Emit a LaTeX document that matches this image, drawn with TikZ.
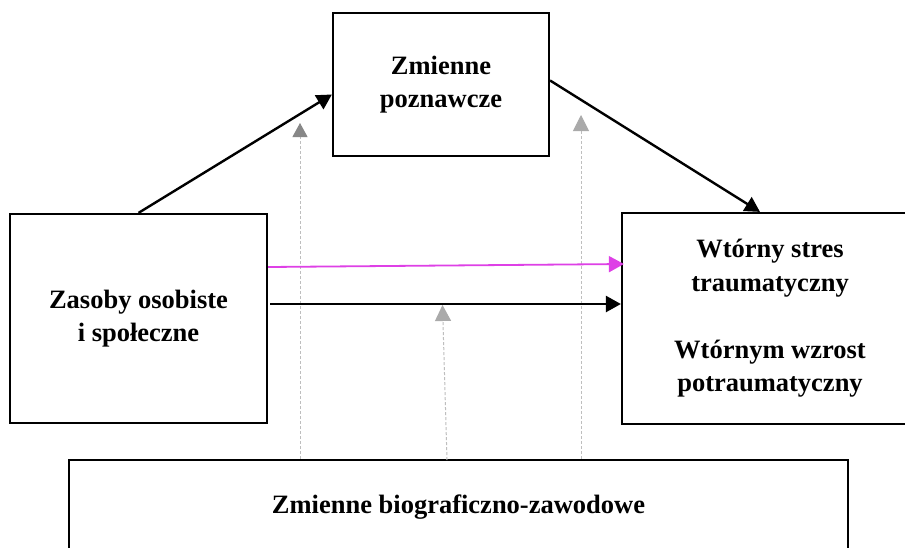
\documentclass[tikz,border=0pt]{standalone}
\usepackage{fontspec}
\setmainfont{Liberation Serif}
\usetikzlibrary{arrows.meta,calc}
\definecolor{mag}{RGB}{222,64,230}
\definecolor{dashgray}{RGB}{190,190,190}
\definecolor{tipdark}{RGB}{135,135,135}
\definecolor{tiplight}{RGB}{170,170,170}
\tikzset{
  box/.style={draw=black,line width=2.2pt,fill=white,align=center,
    font=\fontsize{26.5}{33.5}\selectfont\bfseries,inner sep=0pt},
  conn/.style={line width=2.4pt,-{Triangle[length=15pt,width=16pt]}},
  magconn/.style={draw=mag,line width=1.8pt,-{Triangle[length=15pt,width=16pt,color=mag]}},
  modline/.style={draw=dashgray,line width=1pt,dash pattern=on 3pt off 2pt},
  tipD/.style={-{Triangle[length=14pt,width=15pt,color=tipdark]}},
  tipL/.style={-{Triangle[length=16pt,width=16pt,color=tiplight]}}
}
\begin{document}
\begin{tikzpicture}[x=1pt,y=-1pt]
\useasboundingbox (0,0) rectangle (905,547);
\clip (0,0) rectangle (905,547);
\fill[white] (0,0) rectangle (905,547);
% boxes
\node[box,minimum width=216pt,minimum height=143pt] (top) at (441,84.5) {Zmienne\\poznawcze};
\node[box,minimum width=257pt,minimum height=209pt] (left) at (138.5,318.5) {Zasoby osobiste\\i społeczne};
\node[box,minimum width=296pt,minimum height=211pt] (right) at (770,318.5) {Wtórny stres\\traumatyczny\\[33.5pt]Wtórnym wzrost\\potraumatyczny};
\node[box,minimum width=779pt,minimum height=94pt] (bio) at (458.5,507) {Zmienne biograficzno-zawodowe};
% tips of moderating arrows
\coordinate (g1) at (300,123);
\coordinate (g2) at (442.5,305);
\coordinate (g3) at (581,115);
\coordinate (g2s) at (447,460);
\draw[modline,tipD] (g1 |- bio.north) -- (g1);
\draw[modline,tipL] (g2s) -- (g2);
\draw[modline,tipL] (g3 |- bio.north) -- (g3);
% main arrows
\draw[conn] (left.north) -- ($(top.west)+(0,10)$);
\draw[conn] ($(top.east)+(0,-4)$) -- ($(right.north)+(-10,0)$);
\draw[magconn] ($(left.east)+(0,-51.5)$) -- ($(right.west)+(3,-54.5)$);
\draw[conn] ($(left.east)+(2,-14.5)$) -- ($(right.west)+(0,-14.5)$);
\end{tikzpicture}
\end{document}
